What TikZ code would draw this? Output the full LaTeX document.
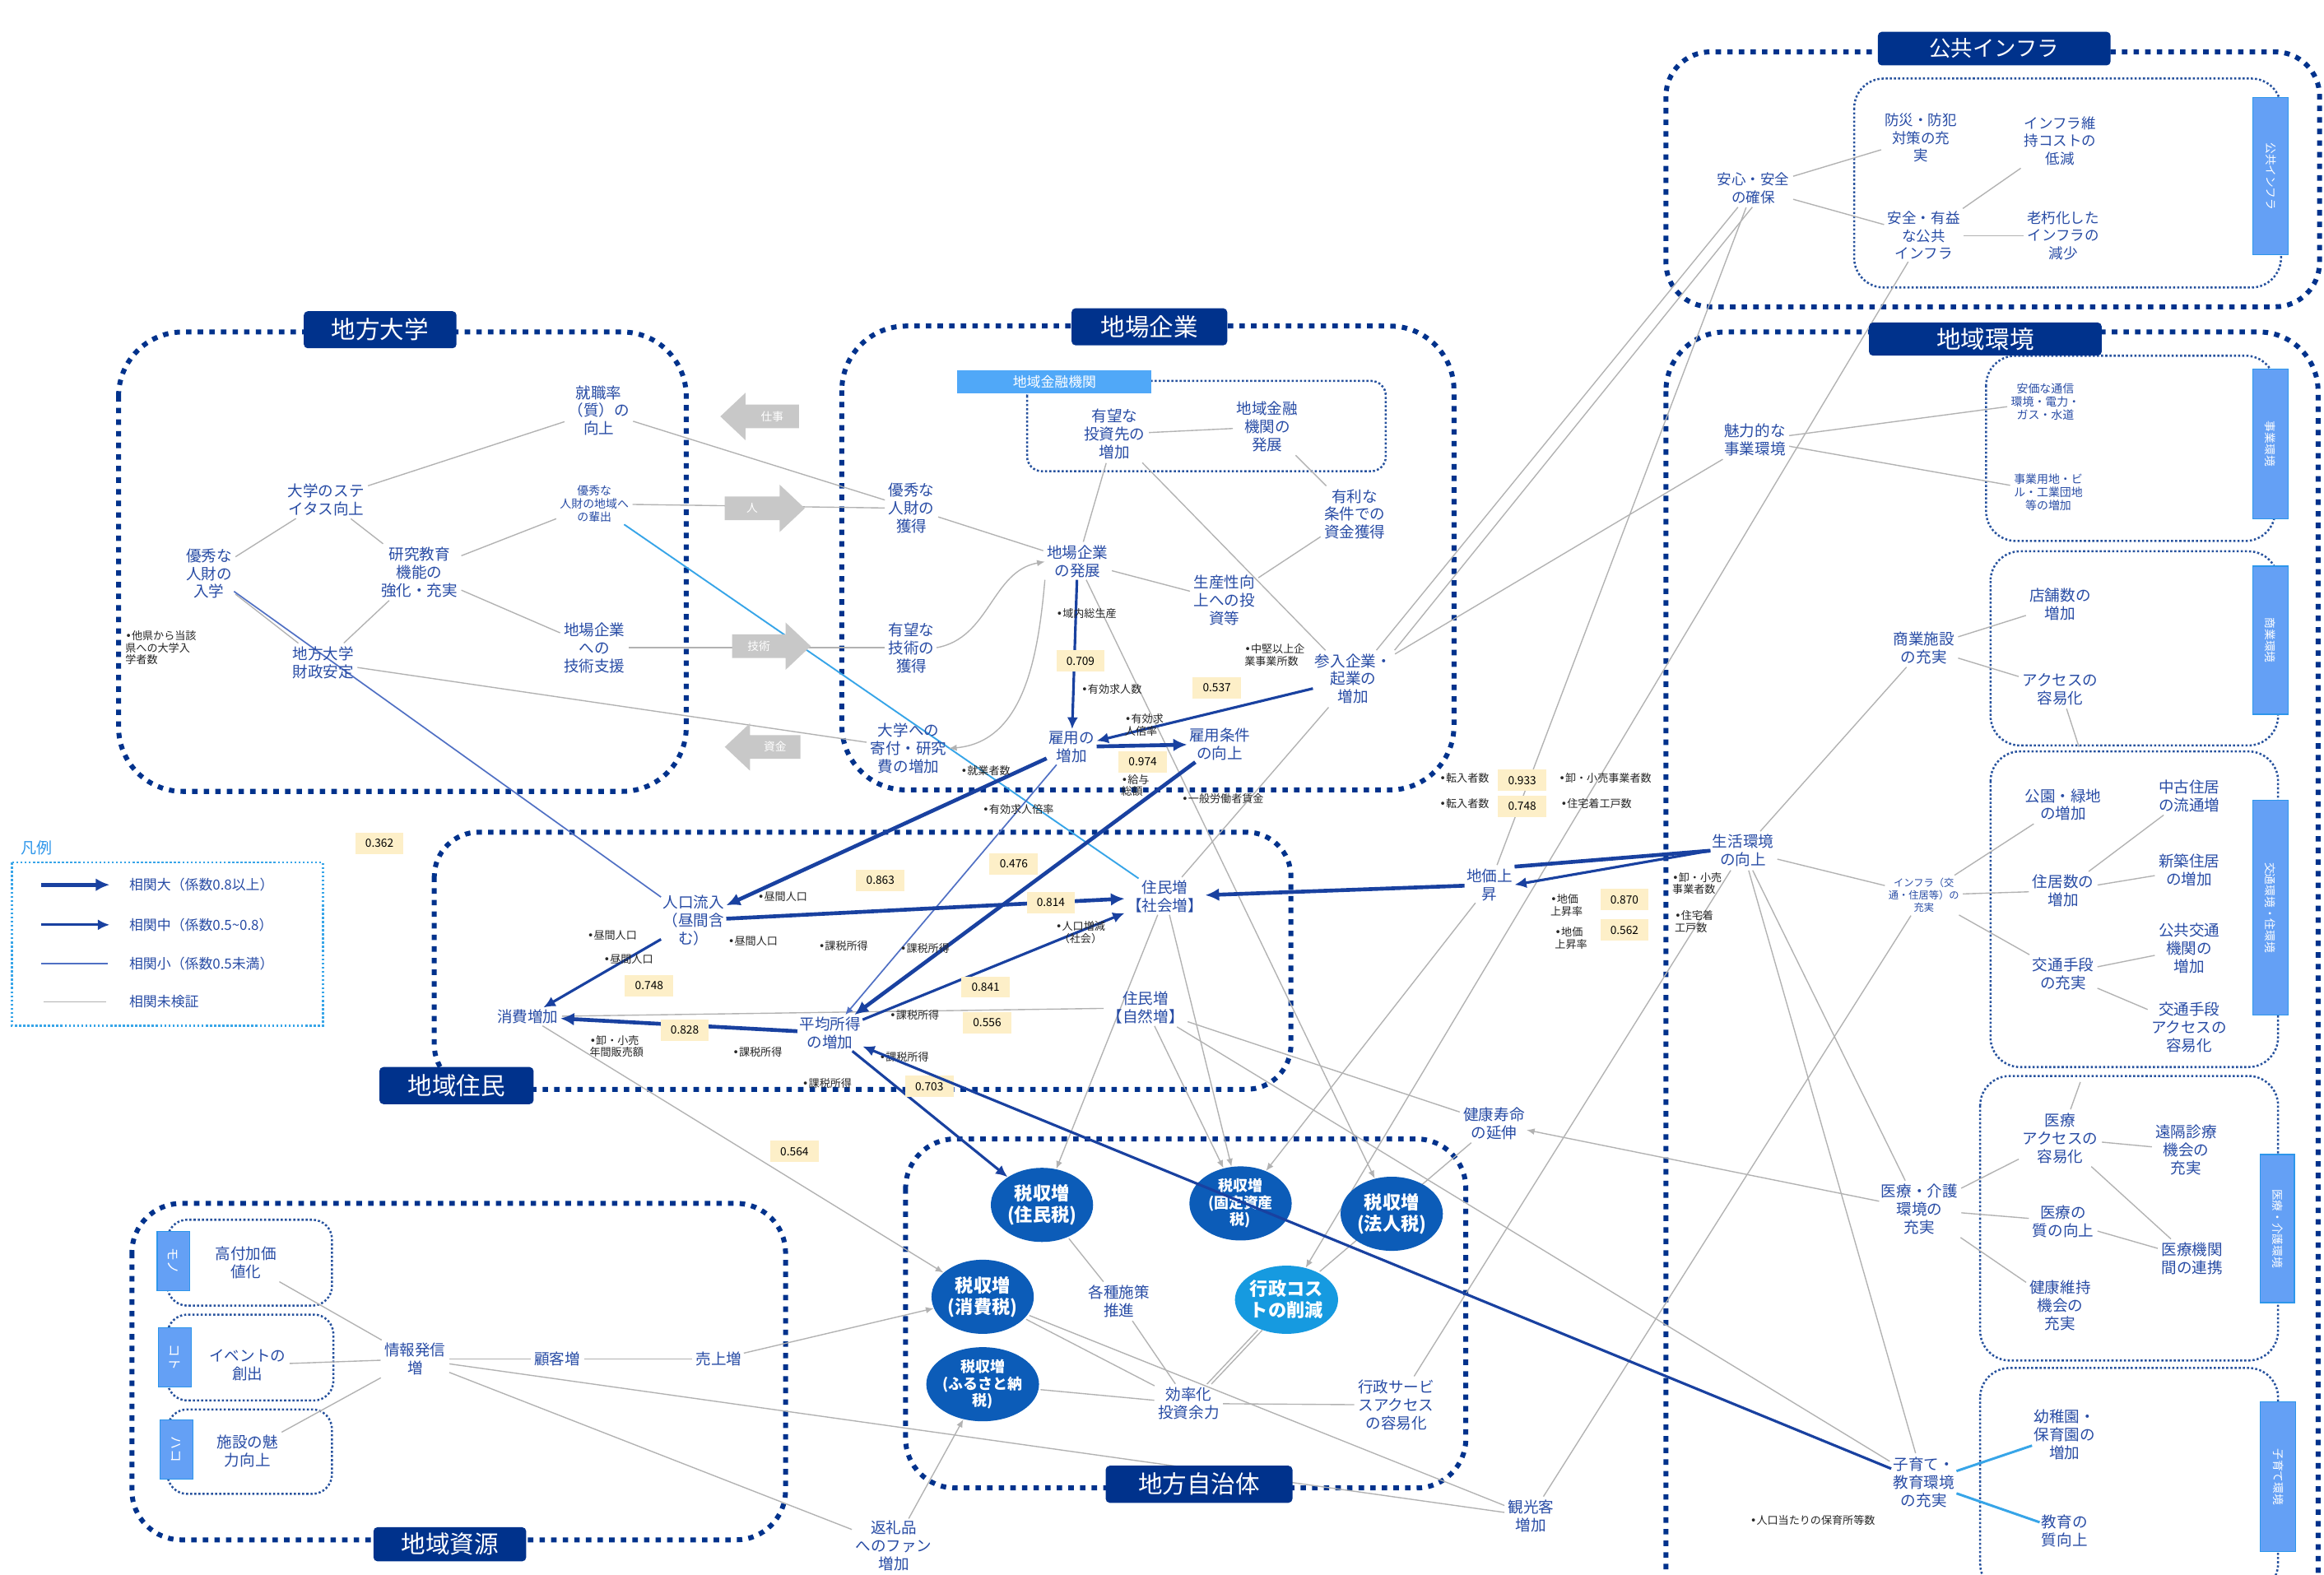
\documentclass[tikz,border=0pt]{standalone}
\usepackage{fontspec}
\setmainfont{Noto Sans CJK JP}
\newfontfamily\dejavu{DejaVu Sans}
\newcommand\bul{{\dejavu •}}
\usetikzlibrary{shapes.geometric,arrows.meta,calc}
\pgfdeclarelayer{bg}
\pgfdeclarelayer{fg}
\pgfsetlayers{bg,main,fg}
\definecolor{navy}{RGB}{0,50,140}
\definecolor{txtblue}{RGB}{40,76,165}
\definecolor{tabblue}{RGB}{100,160,245}
\definecolor{tabedge}{RGB}{45,150,235}
\definecolor{finblue}{RGB}{80,168,248}
\definecolor{badgey}{RGB}{253,239,200}
\definecolor{lgray}{RGB}{178,178,178}
\definecolor{arrblue}{RGB}{25,65,160}
\definecolor{thinblue}{RGB}{80,112,196}
\definecolor{circblue}{RGB}{12,92,184}
\definecolor{circlight}{RGB}{22,154,224}
\definecolor{skyline}{RGB}{55,165,232}
\definecolor{fatgray}{RGB}{200,200,200}
\tikzset{
  grp/.style={draw=navy, line width=1mm, dash pattern=on 1.1mm off 1.25mm, rounded corners=#1},
  subg/.style={draw=navy!85, line width=0.42mm, dash pattern=on 0.42mm off 0.42mm, rounded corners=#1},
  ttl/.style={fill=navy, text=white, rounded corners=0.8mm, inner sep=0pt, font=\fontsize{14}{16}\selectfont},
  tabbox/.style={fill=tabblue, draw=tabedge, line width=0.6pt, inner sep=0pt, text=white, rotate=-90, font=\fontsize{6.5}{7}\selectfont},
  bn/.style={text=txtblue, align=center, inner sep=1pt, font=\fontsize{8.8}{10.4}\selectfont},
  bs/.style={text=txtblue, align=center, inner sep=1pt, font=\fontsize{6.6}{7.6}\selectfont},
  lab/.style={text=black!85, align=left, inner sep=0.3pt, font=\fontsize{6.2}{7}\selectfont},
  badge/.style={fill=badgey, inner sep=0pt, minimum width=9.8mm, minimum height=4.3mm, font=\fontsize{6.5}{7}\selectfont},
  circ/.style={ellipse, fill=circblue, text=white, align=center, inner sep=0pt, minimum width=20.7mm, minimum height=15mm, font=\bfseries\fontsize{10.5}{12.3}\selectfont},
  fattext/.style={text=white, inner sep=0pt, font=\fontsize{6.5}{7}\selectfont},
  gl/.style={draw=lgray, line width=0.65pt, shorten >=1pt, shorten <=1pt},
  glh/.style={draw=lgray, line width=0.65pt, -{Latex[length=1.6mm,width=1.3mm]}},
  bthick/.style={draw=arrblue, line width=2.2pt, -{Latex[length=2.8mm,width=2.6mm]}},
  bmid/.style={draw=arrblue, line width=1.5pt, -{Latex[length=2.4mm,width=2.2mm]}},
  bthin/.style={draw=thinblue, line width=0.8pt},
  sky/.style={draw=skyline, line width=0.9pt},
}
\begin{document}
\begin{tikzpicture}[x=0.3mm,y=-0.3mm]
\useasboundingbox (0,0) rectangle (1568,1062.2);
\begin{pgfonlayer}{bg}
\fill[white] (0,0) rectangle (1568,1062.2);
% group frames
\draw[grp=13mm] (80,224) rectangle (463,534);
\draw[grp=13mm] (568,220) rectangle (981,533);
\draw[grp=9mm] (293,561.5) rectangle (871,735);
\draw[grp=10mm] (611,768.5) rectangle (989,1004);
\draw[grp=10mm] (89,812) rectangle (530,1039);
\draw[grp=9mm] (1124,35) rectangle (1565,207);
\draw[grp=12mm] (1124,224) rectangle (1564,1110);
% inner frames
\draw[subg=3mm] (693,257) rectangle (935,318);
\draw[subg=6mm] (1251,53) rectangle (1539,194);
\draw[subg=6mm] (1340,240) rectangle (1535,365);
\draw[subg=6mm] (1343,372) rectangle (1537,503);
\draw[subg=6mm] (1343,507) rectangle (1537,720);
\draw[subg=6mm] (1336,726) rectangle (1537,918);
\draw[subg=6mm] (1336,923) rectangle (1537,1075);
\draw[subg=4mm] (113,823) rectangle (224,881);
\draw[subg=4mm] (113,887) rectangle (225,945);
\draw[subg=4mm] (113,951) rectangle (224,1008);
\draw[subg=0mm, draw=skyline] (8,582) rectangle (218,692);
\end{pgfonlayer}

% ---------- titles ----------
\node[ttl, minimum width=30.9mm, minimum height=7.5mm] (t_univ) at (256.5,222.5) {地方大学};
\node[ttl, minimum width=31.5mm, minimum height=7.5mm] (t_kigyo) at (775.5,220.5) {地場企業};
\node[ttl, minimum width=31.2mm, minimum height=7.5mm] (t_jumin) at (308,732.5) {地域住民};
\node[ttl, minimum width=37.8mm, minimum height=7.5mm] (t_jichi) at (809,1001.5) {地方自治体};
\node[ttl, minimum width=30.9mm, minimum height=6.9mm] (t_shigen) at (303.5,1042) {地域資源};
\node[ttl, minimum width=47.1mm, minimum height=6.8mm, font=\fontsize{12.5}{14}\selectfont] (t_infra) at (1345.5,32.8) {公共インフラ};
\node[ttl, minimum width=47.1mm, minimum height=6.7mm] (t_kankyo) at (1339.5,228.8) {地域環境};
\node[fill=finblue, text=white, inner sep=0pt, minimum width=39.3mm, minimum height=4.6mm, font=\fontsize{8}{9}\selectfont] (t_fin) at (711.5,257.5) {地域金融機関};

% ---------- side tabs ----------
\node[tabbox, minimum width=31.8mm, minimum height=7.2mm] (tb_infra) at (1532,119) {公共インフラ};
\node[tabbox, minimum width=30.3mm, minimum height=7.2mm] (tb_jigyo) at (1532,299.5) {事業環境};
\node[tabbox, minimum width=30mm, minimum height=7.2mm] (tb_shogyo) at (1532,432) {商業環境};
\node[tabbox, minimum width=43.5mm, minimum height=7.2mm] (tb_kotsu) at (1532,612.5) {交通環境・住環境};
\node[tabbox, minimum width=30mm, minimum height=6.9mm] (tb_iryo) at (1536.5,829) {医療・介護環境};
\node[tabbox, minimum width=30.3mm, minimum height=7.2mm] (tb_kosodate) at (1537,996.5) {子育て環境};
\node[tabbox, minimum width=12mm, minimum height=6.6mm, font=\fontsize{7.5}{8}\selectfont] (tb_mono) at (117,851) {モノ};
\node[tabbox, minimum width=12mm, minimum height=6.6mm, font=\fontsize{7.5}{8}\selectfont] (tb_koto) at (118,916) {コト};
\node[tabbox, minimum width=12mm, minimum height=6.6mm, font=\fontsize{7.5}{8}\selectfont] (tb_hako) at (119,978) {ハコ};

% ---------- legend ----------
\node[text=tabedge, font=\fontsize{9}{10}\selectfont, anchor=west, inner sep=0pt] (lg_title) at (14,572) {凡例};
\coordinate (lg1a) at (28,597); \coordinate (lg1b) at (74,597);
\coordinate (lg2a) at (28,624); \coordinate (lg2b) at (74,624);
\coordinate (lg3a) at (28,650); \coordinate (lg3b) at (73,650);
\coordinate (lg4a) at (28,676); \coordinate (lg4b) at (73,676);
\draw[bthick] (lg1a) -- (lg1b);
\draw[bmid] (lg2a) -- (lg2b);
\draw[bthin, line width=1.1pt] (lg3a) -- (lg3b);
\draw[gl, line width=0.9pt] (lg4a) -- (lg4b);
\node[anchor=west, text=txtblue, inner sep=0pt, font=\fontsize{8}{9}\selectfont] (lg1t) at (87,597) {相関大（係数0.8以上）};
\node[anchor=west, text=txtblue, inner sep=0pt, font=\fontsize{8}{9}\selectfont] (lg2t) at (87,624) {相関中（係数0.5\textasciitilde0.8）};
\node[anchor=west, text=txtblue, inner sep=0pt, font=\fontsize{8}{9}\selectfont] (lg3t) at (87,650) {相関小（係数0.5未満）};
\node[anchor=west, text=txtblue, inner sep=0pt, font=\fontsize{8}{9}\selectfont] (lg4t) at (87,676) {相関未検証};

% ---------- local university ----------
\node[bn] (u_shoku) at (404,277) {就職率\\（質）の\\向上};
\node[bn] (u_status) at (220,337) {大学のステ\\イタス向上};
\node[bn] (u_nyugaku) at (141,387) {優秀な\\人財の\\入学};
\node[bn] (u_kenkyu) at (283,386) {研究教育\\機能の\\強化・充実};
\node[bs] (u_hai) at (401,340) {優秀な\\人財の地域へ\\の輩出};
\node[bn] (u_gijutsu) at (401,437) {地場企業\\への\\技術支援};
\node[bn] (u_zaisei) at (218,447) {地方大学\\財政安定};
\node[lab, anchor=west] (u_taken) at (84,437) {\bul 他県から当該\\県への大学入\\学者数};

% exchange arrows between university and firms (labels; arrow bodies drawn below)
\node[fattext] (ga_shigoto) at (521,281) {仕事};
\node[fattext] (ga_hito) at (507.5,343) {人};
\node[fattext] (ga_gijutsu) at (512,436) {技術};
\node[fattext] (ga_shikin) at (523,504) {資金};

% ---------- local firms ----------
\node[bn] (k_jinzai) at (615,343) {優秀な\\人財の\\獲得};
\node[bn] (k_gijutsu) at (615,437) {有望な\\技術の\\獲得};
\node[bn] (k_kifu) at (613,505) {大学への\\寄付・研究\\費の増加};
\node[bn] (k_hatten) at (727,379) {地場企業\\の発展};
\node[bn] (k_toushi) at (752,293) {有望な\\投資先の\\増加};
\node[bn] (k_kinyu) at (855,288) {地域金融\\機関の\\発展};
\node[bn] (k_yuri) at (914,347) {有利な\\条件での\\資金獲得};
\node[bn] (k_seisan) at (826,405) {生産性向\\上への投\\資等};
\node[bn] (k_sannyu) at (913,458) {参入企業・\\起業の\\増加};
\node[bn] (k_koyo) at (723,504) {雇用の\\増加};
\node[bn] (k_joken) at (823,502) {雇用条件\\の向上};

\node[lab] (l_gdp) at (733,414) {\bul 域内総生産};
\node[badge] (b_709) at (729,446) {0.709};
\node[lab] (l_kyujin) at (750,465) {\bul 有効求人数};
\node[badge] (b_537) at (821,464) {0.537};
\node[lab] (l_chuken) at (860,442) {\bul 中堅以上企\\業事業所数};
\node[lab] (l_bairitsu) at (772,489) {\bul 有効求\\人倍率};
\node[badge] (b_974) at (771,514) {0.974};
\node[lab] (l_kyuyo) at (766,530) {\bul 給与\\総額};
\node[lab] (l_shugyo) at (665,520) {\bul 就業者数};
\node[lab] (l_ippan) at (825,539) {\bul 一般労働者賃金};
\node[lab] (l_bairitsu2) at (687,546) {\bul 有効求人倍率};

% ---------- residents ----------
\node[bn] (j_ryunyu) at (468,621) {人口流入\\（昼間含\\む）};
\node[bn] (j_shohi) at (356,686) {消費増加};
\node[bn] (j_shotoku) at (560,697) {平均所得\\の増加};
\node[bn] (j_shakai) at (786,605) {住民増\\【社会増】};
\node[bn] (j_shizen) at (773,680) {住民増\\【自然増】};

\node[lab] (l_chukan1) at (413,631) {\bul 昼間人口};
\node[lab] (l_chukan2) at (424,647) {\bul 昼間人口};
\node[badge] (b_748a) at (438,665) {0.748};
\node[lab] (l_oroshi0) at (416,706) {\bul 卸・小売\\年間販売額};
\node[badge] (b_828) at (462,695) {0.828};
\node[lab] (l_kazei1) at (511,710) {\bul 課税所得};
\node[lab] (l_chukan3) at (528,605) {\bul 昼間人口};
\node[lab] (l_chukan4) at (508,635) {\bul 昼間人口};
\node[lab] (l_kazei2) at (569,638) {\bul 課税所得};
\node[lab] (l_kazei3) at (624,640) {\bul 課税所得};
\node[lab, align=center] (l_shakai) at (729,629) {\bul 人口増減\\（社会）};
\node[lab] (l_kazei4) at (617,685) {\bul 課税所得};
\node[lab] (l_kazei5) at (610,713) {\bul 課税所得};
\node[lab] (l_kazei6) at (558,731) {\bul 課税所得};
\node[badge] (b_362) at (256,569) {0.362};
\node[badge] (b_863) at (594,594) {0.863};
\node[badge] (b_476) at (684,583) {0.476};
\node[badge] (b_814) at (709,609) {0.814};
\node[badge] (b_841) at (665,666) {0.841};
\node[badge] (b_556) at (666,690) {0.556};
\node[badge] (b_703) at (627,733) {0.703};
\node[badge] (b_564) at (536,777) {0.564};

% ---------- municipality ----------
\node[circ] (c_jumin) at (703,813) {税収増\\(住民税)};
\node[circ, font=\bfseries\fontsize{8.5}{9.8}\selectfont] (c_kotei) at (837,812) {税収増\\(固定資産\\税)};
\node[circ] (c_hojin) at (939,819) {税収増\\(法人税)};
\node[circ] (c_shohi) at (663,875) {税収増\\(消費税)};
\node[circ, font=\bfseries\fontsize{8.5}{9.8}\selectfont] (c_furusato) at (663,934) {税収増\\(ふるさと納\\税)};
\node[circ, fill=circlight, minimum height=13.8mm] (c_gyosei) at (868,877) {行政コス\\トの削減};
\node[bn] (g_shisaku) at (755,878) {各種施策\\推進};
\node[bn] (g_koritsu) at (802,947) {効率化\\投資余力};
\node[bn] (g_service) at (942,948) {行政サービ\\スアクセス\\の容易化};
\node[bn] (g_henrei) at (603,1043) {返礼品\\へのファン\\増加};
\node[bn] (g_kanko) at (1033,1023) {観光客\\増加};
\node[bn] (g_kenko) at (1008,758) {健康寿命\\の延伸};

% ---------- local resources ----------
\node[bn] (r_fuka) at (166,852) {高付加価\\値化};
\node[bn] (r_event) at (167,921) {イベントの\\創出};
\node[bn] (r_shisetsu) at (167,979) {施設の魅\\力向上};
\node[bn] (r_joho) at (280,917) {情報発信\\増};
\node[bn] (r_kokyaku) at (376,917) {顧客増};
\node[bn] (r_uriage) at (485,917) {売上増};

% ---------- public infrastructure ----------
\node[bn, font=\fontsize{8.3}{10.2}\selectfont] (i_anshin) at (1183,127) {安心・安全\\の確保};
\node[bn, font=\fontsize{8.3}{10.2}\selectfont] (i_bosai) at (1296,93) {防災・防犯\\対策の充\\実};
\node[bn, font=\fontsize{8.3}{10.2}\selectfont] (i_iji) at (1390,95) {インフラ維\\持コストの\\低減};
\node[bn, font=\fontsize{8.3}{10.2}\selectfont] (i_anzen) at (1298,159) {安全・有益\\な公共\\インフラ};
\node[bn, font=\fontsize{8.3}{10.2}\selectfont] (i_rokyu) at (1392,159) {老朽化した\\インフラの\\減少};

% ---------- regional environment ----------
\node[bn] (e_miryoku) at (1184,297) {魅力的な\\事業環境};
\node[bs] (e_anka) at (1380,271) {安価な通信\\環境・電力・\\ガス・水道};
\node[bs] (e_yochi) at (1382,332) {事業用地・ビ\\ル・工業団地\\等の増加};
\node[bn] (e_shogyo) at (1298,437) {商業施設\\の充実};
\node[bn] (e_tenpo) at (1390,408) {店舗数の\\増加};
\node[bn] (e_access) at (1390,465) {アクセスの\\容易化};
\node[bn] (e_seikatsu) at (1176,574) {生活環境\\の向上};
\node[bs, font=\fontsize{5.8}{7}\selectfont] (e_infra) at (1298,604) {インフラ（交\\通・住居等）の\\充実};
\node[bn] (e_koen) at (1392,543) {公園・緑地\\の増加};
\node[bn] (e_chuko) at (1477,537) {中古住居\\の流通増};
\node[bn] (e_jukyo) at (1392,601) {住居数の\\増加};
\node[bn] (e_shinchiku) at (1477,587) {新築住居\\の増加};
\node[bn] (e_kotsu) at (1392,657) {交通手段\\の充実};
\node[bn] (e_kokyo) at (1477,640) {公共交通\\機関の\\増加};
\node[bn] (e_kotsuacc) at (1477,693) {交通手段\\アクセスの\\容易化};
\node[bn] (e_iryo) at (1295,816) {医療・介護\\環境の\\充実};
\node[bn] (e_iryoacc) at (1390,768) {医療\\アクセスの\\容易化};
\node[bn] (e_enkaku) at (1475,776) {遠隔診療\\機会の\\充実};
\node[bn] (e_shitsu) at (1392,824) {医療の\\質の向上};
\node[bn] (e_renkei) at (1479,849) {医療機関\\間の連携};
\node[bn] (e_iji) at (1390,881) {健康維持\\機会の\\充実};
\node[bn] (e_kosodate) at (1298,1000) {子育て・\\教育環境\\の充実};
\node[bn] (e_yochien) at (1393,968) {幼稚園・\\保育園の\\増加};
\node[bn] (e_kyoiku) at (1393,1033) {教育の\\質向上};
\node[lab] (l_hoiku) at (1223,1026) {\bul 人口当たりの保育所等数};
\node[bn] (e_chika) at (1005,597) {地価上\\昇};

\node[lab] (l_ten1) at (988,525) {\bul 転入者数};
\node[badge] (b_933) at (1027,526.5) {0.933};
\node[lab] (l_oro1) at (1083,525) {\bul 卸・小売事業者数};
\node[lab] (l_ten2) at (988,542) {\bul 転入者数};
\node[badge] (b_748b) at (1027,544) {0.748};
\node[lab] (l_jut1) at (1077,542) {\bul 住宅着工戸数};
\node[lab] (l_chika1) at (1057,611) {\bul 地価\\上昇率};
\node[badge] (b_870) at (1096,607) {0.870};
\node[lab] (l_chika2) at (1060,633) {\bul 地価\\上昇率};
\node[badge] (b_562) at (1096,627.5) {0.562};
\node[lab] (l_oro2) at (1145,596) {\bul 卸・小売\\事業者数};
\node[lab] (l_jut2) at (1143,622) {\bul 住宅着\\工戸数};

\coordinate (stub1) at (1403,505);
\coordinate (stub2) at (1404,729);

% ---------- connectors ----------
\begin{pgfonlayer}{bg}
% university
\draw[gl] (u_status) -- (u_shoku);
\draw[gl] (u_nyugaku) -- (u_status);
\draw[gl] (u_status) -- (u_kenkyu);
\draw[gl] (u_kenkyu) -- (u_hai);
\draw[gl] (u_kenkyu) -- (u_gijutsu);
\draw[gl] (u_kenkyu) -- (u_zaisei);
\draw[gl] (u_nyugaku) -- (u_zaisei);
\draw[gl] (u_shoku) -- (k_jinzai);
\draw[gl] (u_hai) -- (k_jinzai);
\draw[gl] (u_gijutsu) -- (k_gijutsu);
\draw[gl] (u_zaisei) -- (k_kifu);
\draw[bthin] (u_nyugaku) -- (j_ryunyu);
\draw[sky] (u_hai) -- (j_shakai);
% firms
\draw[gl] (k_jinzai) -- (k_hatten);
\draw[glh] (k_gijutsu.east) to[out=10,in=190] (k_hatten.west);
\draw[glh] (k_hatten.south west) to[out=-95,in=5] (k_kifu.east);
\draw[gl] (k_toushi) -- (k_hatten);
\draw[gl] (k_toushi) -- (k_kinyu);
\draw[gl] (k_kinyu) -- (k_yuri);
\draw[gl] (k_hatten) -- (k_seisan);
\draw[gl] (k_seisan) -- (k_yuri);
\draw[gl] (k_toushi) -- (k_sannyu);
\draw[glh] (k_hatten) -- (c_hojin);
\draw[gl] (k_sannyu) -- (j_shakai);
\draw[gl] (k_sannyu) -- (e_miryoku);
\draw[gl] (i_anshin) -- (k_sannyu);
\draw[gl] (i_anshin.south) -- (k_sannyu.north east);
% infrastructure
\draw[gl] (i_anshin) -- (e_chika);
\draw[glh] (i_anzen) -- (c_gyosei);
\draw[gl] (i_anshin) -- (i_bosai);
\draw[gl] (i_anshin) -- (i_anzen);
\draw[gl] (i_anzen) -- (i_iji);
\draw[gl] (i_anzen) -- (i_rokyu);
% environment
\draw[gl] (e_miryoku) -- (e_anka);
\draw[gl] (e_miryoku) -- (e_yochi);
\draw[gl] (e_shogyo) -- (e_tenpo);
\draw[gl] (e_shogyo) -- (e_access);
\draw[gl] (e_seikatsu) -- (e_shogyo);
\draw[gl] (e_seikatsu) -- (e_infra);
\draw[gl] (e_infra) -- (e_koen);
\draw[gl] (e_jukyo) -- (e_infra);
\draw[gl] (e_infra) -- (e_kotsu);
\draw[gl] (e_jukyo) -- (e_chuko);
\draw[gl] (e_shinchiku) -- (e_jukyo);
\draw[gl] (e_kokyo) -- (e_kotsu);
\draw[gl] (e_kotsu) -- (e_kotsuacc);
\draw[gl] (e_access) -- (stub1);
\draw[gl] (e_iryoacc) -- (stub2);
\draw[gl] (e_seikatsu) -- (e_kosodate);
\draw[gl] (e_seikatsu) -- (e_iryo);
\draw[gl] (e_seikatsu) -- (g_service);
\draw[gl] (e_infra) -- (g_kanko);
\draw[gl] (e_iryo) -- (e_iryoacc);
\draw[gl] (e_shitsu) -- (e_iryo);
\draw[gl] (e_iryo) -- (e_iji);
\draw[gl] (e_enkaku) -- (e_iryoacc);
\draw[gl] (e_iryoacc) -- (e_renkei);
\draw[gl] (e_renkei) -- (e_shitsu);
\draw[glh] (e_iryo) -- (g_kenko);
\draw[sky, line width=1.4pt] (e_kosodate) -- (e_yochien);
\draw[sky, line width=1.4pt] (e_kosodate) -- (e_kyoiku);
% residents and taxes
\draw[gl] (j_shohi) -- (j_shizen);
\draw[glh] (j_shohi) -- (c_shohi);
\draw[glh] (j_shakai) -- (c_jumin);
\draw[glh] (j_shakai) -- (c_kotei);
\draw[glh] (j_shizen) -- (c_kotei);
\draw[glh] (e_chika) -- (c_kotei);
\draw[gl] (g_kenko) -- (j_shizen);
\draw[gl] (j_shizen) -- (e_kosodate);
\draw[gl] (g_kenko) -- (c_gyosei);
% resources and municipality
\draw[gl] (r_fuka) -- (r_joho);
\draw[gl] (r_event) -- (r_joho);
\draw[gl] (r_shisetsu) -- (r_joho);
\draw[gl] (r_joho) -- (r_kokyaku);
\draw[gl] (r_kokyaku) -- (r_uriage);
\draw[glh] (r_uriage) -- (c_shohi);
\draw[gl] (r_joho) -- (g_kanko);
\draw[gl] (r_joho) -- (g_henrei);
\draw[glh] (g_henrei) -- (c_furusato);
\draw[gl] (c_furusato) -- (g_koritsu);
\draw[gl] (c_shohi) -- (g_koritsu);
\draw[gl] (c_shohi) -- (g_kanko);
\draw[gl] (c_jumin) -- (g_shisaku);
\draw[gl] (g_shisaku) -- (g_koritsu);
\draw[gl] (c_gyosei) -- (g_koritsu);
\draw[gl, transform canvas={xshift=0.9mm}] (c_gyosei) -- (g_koritsu);
\draw[gl] (g_service) -- (g_koritsu);
% correlations
\draw[bmid] (k_hatten) -- (k_koyo);
\draw[bmid] (k_sannyu) -- (k_koyo);
\draw[bthick] (k_koyo) -- (k_joken);
\draw[bthick] (k_koyo) -- (j_ryunyu);
\draw[bthin, -{Latex[length=1.6mm,width=1.4mm]}] (k_koyo) -- (j_shotoku);
\draw[bthick] (k_joken) -- (j_shotoku);
\draw[bthick] (j_ryunyu) -- (j_shakai);
\draw[bmid] (j_shotoku) -- (j_shakai);
\draw[bthick] (j_shotoku) -- (j_shohi);
\draw[bmid] (j_ryunyu) -- (j_shohi);
\draw[bthick] (e_chika) -- (j_shakai);
\draw[draw=arrblue, line width=2.2pt] (e_seikatsu.west) -- (e_chika.north east);
\draw[bmid] (e_seikatsu.west) -- (e_chika.east);
\draw[bmid] (j_shotoku) -- (c_jumin);
% fat gray arrows between university and firms (over the gray lines)
\fill[fatgray] ($(ga_shigoto)+(18,-8)$) -- ++(-36,0) -- ++(0,-8) -- ++(-17,16) -- ++(17,16) -- ++(0,-8) -- ++(36,0) -- cycle;
\fill[fatgray] ($(ga_hito)+(-18.5,-8)$) -- ++(37,0) -- ++(0,-8) -- ++(17,16) -- ++(-17,16) -- ++(0,-8) -- ++(-37,0) -- cycle;
\fill[fatgray] ($(ga_gijutsu)+(-18,-8)$) -- ++(36,0) -- ++(0,-8) -- ++(17,16) -- ++(-17,16) -- ++(0,-8) -- ++(-36,0) -- cycle;
\fill[fatgray] ($(ga_shikin)+(17,-8)$) -- ++(-34,0) -- ++(0,-8) -- ++(-17,16) -- ++(17,16) -- ++(0,-8) -- ++(34,0) -- cycle;
\end{pgfonlayer}
\begin{pgfonlayer}{fg}
\draw[bmid] (e_kosodate) -- (j_shotoku);
\end{pgfonlayer}
\end{tikzpicture}
\end{document}
